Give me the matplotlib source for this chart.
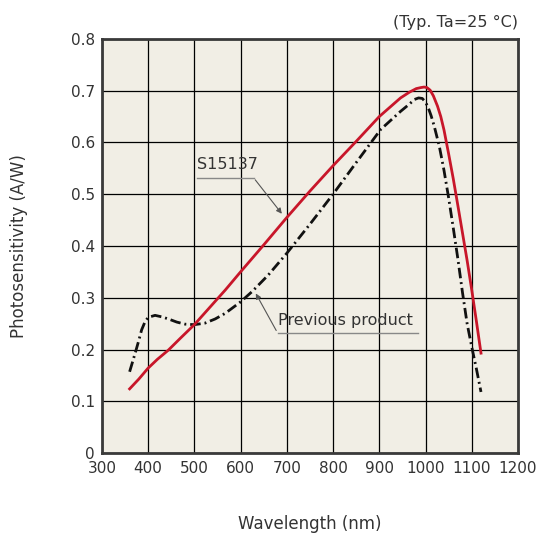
"""Photosensitivity vs wavelength: S15137 vs previous product."""
import matplotlib
matplotlib.use("Agg")
import matplotlib.pyplot as plt

# S15137 (red)
wl_new = [360, 380, 400, 420, 444, 470, 500, 530, 567, 600, 650, 700, 750, 800,
          850, 900, 946, 965, 980, 990, 997, 1003, 1010, 1017, 1026, 1033, 1040,
          1050, 1060, 1070, 1080, 1090, 1100, 1110, 1120]
ps_new = [0.124, 0.143, 0.164, 0.181, 0.199, 0.222, 0.248, 0.278, 0.315, 0.350,
          0.402, 0.455, 0.506, 0.555, 0.602, 0.650, 0.686, 0.697, 0.704, 0.706,
          0.707, 0.706, 0.701, 0.690, 0.670, 0.650, 0.624, 0.578, 0.530, 0.478,
          0.425, 0.372, 0.315, 0.255, 0.193]

# previous product (black dash-dot)
wl_old = [360, 366, 373, 380, 386, 393, 400, 415, 430, 444, 462, 480, 500, 523,
          545, 567, 600, 625, 660, 700, 750, 800, 850, 903, 946, 965, 976, 985,
          993, 1000, 1006, 1012, 1019, 1030, 1040, 1050, 1060, 1070, 1080, 1090,
          1100, 1110, 1120]
ps_old = [0.157, 0.175, 0.196, 0.218, 0.238, 0.253, 0.262, 0.266, 0.263, 0.259,
          0.253, 0.249, 0.248, 0.251, 0.259, 0.270, 0.292, 0.312, 0.344, 0.386,
          0.442, 0.500, 0.561, 0.625, 0.660, 0.674, 0.683, 0.686, 0.685, 0.678,
          0.667, 0.652, 0.631, 0.592, 0.546, 0.493, 0.435, 0.375, 0.310, 0.250,
          0.205, 0.163, 0.118]

xticks = list(range(300, 1201, 100))
yticks = [0, 0.1, 0.2, 0.3, 0.4, 0.5, 0.6, 0.7, 0.8]
ylabels = ["0", "0.1", "0.2", "0.3", "0.4", "0.5", "0.6", "0.7", "0.8"]

txt = "#333333"
fig = plt.figure(figsize=(5.39, 5.33), dpi=100)
ax = fig.add_axes([0.189, 0.150, 0.772, 0.777])
ax.set_facecolor("#f1eee5")

ax.plot(wl_old, ps_old, color="#111111", lw=2.0, ls=(0, (3.8, 1.4, 0.7, 1.4)), zorder=3)
ax.plot(wl_new, ps_new, color="#c8162a", lw=2.0, zorder=4)

ax.set_xlim(300, 1200); ax.set_ylim(0, 0.8)
ax.set_xticks(xticks); ax.set_yticks(yticks); ax.set_yticklabels(ylabels)
ax.tick_params(length=0, labelsize=11, labelcolor=txt)
ax.tick_params(axis="x", pad=6)
ax.tick_params(axis="y", pad=5)
ax.grid(True, color="#000000", lw=0.9)
ax.set_axisbelow(True)
for s in ax.spines.values():
    s.set_color("#3a3a3a"); s.set_linewidth(2.0)

ax.set_xlabel("Wavelength (nm)", fontsize=12, color=txt, labelpad=28)
ax.set_ylabel("Photosensitivity (A/W)", fontsize=12, color=txt, labelpad=31)
fig.text(0.961, 0.957, "(Typ. Ta=25 °C)", ha="right", va="center", fontsize=11.5, color=txt)

# annotations with underline leader
ax.text(506, 0.542, "S15137", fontsize=11.5, color=txt, va="bottom")
ax.plot([506, 628], [0.532, 0.532], color="#888888", lw=1.0)
ax.annotate("", xy=(693, 0.458), xytext=(628, 0.532),
            arrowprops=dict(arrowstyle="-|>", color="#555555", lw=0.8, mutation_scale=8))
ax.text(680, 0.242, "Previous product", fontsize=11.5, color=txt, va="bottom")
ax.plot([680, 983], [0.232, 0.232], color="#888888", lw=1.0)
ax.annotate("", xy=(630, 0.313), xytext=(680, 0.232),
            arrowprops=dict(arrowstyle="-|>", color="#555555", lw=0.8, mutation_scale=8))

fig.savefig("out.png", dpi=100)
